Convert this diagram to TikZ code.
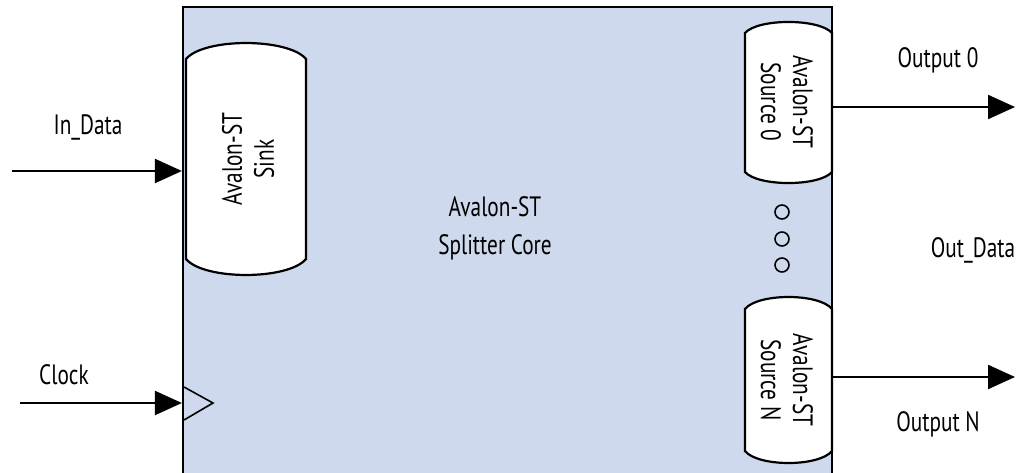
\documentclass[tikz,border=0pt]{standalone}
\usepackage{fontspec}
\setmainfont{PT Sans}[FakeStretch=0.76]
\usetikzlibrary{arrows.meta}
\usetikzlibrary{positioning}
\definecolor{corefill}{RGB}{206,217,237}

\begin{document}
\begin{tikzpicture}[x=1pt,y=-1pt]
	\tikzstyle{txt}=[inner sep=0pt,font=\fontsize{28}{32}\selectfont,align=center]
	\tikzstyle{pad}=[draw,line width=2.2pt,fill=white]
	\tikzstyle{sig}=[draw,line width=2.2pt,-{Triangle[length=27pt,width=24pt]}]
	\tikzstyle{dot}=[circle,draw,line width=1.6pt,minimum size=14pt,inner sep=0pt]
	\useasboundingbox (0,0) rectangle (1022,473);

	% core block
	\node[draw,line width=2.2pt,fill=corefill,minimum width=649pt,minimum height=480pt,inner sep=0pt] (core) at (507.5,247) {};
	\node[txt,font=\fontsize{28}{38}\selectfont] (corelbl) at (495,228) {Avalon-ST\\Splitter Core};

	% sink and sources
	\draw[pad] (186,59) .. controls (204,37.7) and (288,37.7) .. (306,59) -- (306,259)
		.. controls (288,280.3) and (204,280.3) .. (186,259) -- cycle;
	\draw[pad] (745,33) .. controls (758,18.3) and (819,18.3) .. (832,33) -- (832,172)
		.. controls (819,186.7) and (758,186.7) .. (745,172) -- cycle;
	\draw[pad] (745,309) .. controls (758,293) and (819,293) .. (832,309) -- (832,451)
		.. controls (819,467) and (758,467) .. (745,451) -- cycle;
	\node[txt,rotate=90] (sink) at (248,159) {Avalon-ST\\Sink};
	\node[txt,rotate=-90] (src0) at (787,102) {Avalon-ST\\Source 0};
	\node[txt,rotate=-90] (srcN) at (787,380) {Avalon-ST\\Source N};

	\node[dot] (d1) at (782,212) {};
	\node[dot] (d2) at (782,239) {};
	\node[dot] (d3) at (782,265) {};

	% clock input
	\draw[line width=1.6pt,fill=corefill] (184,387) -- (213,403) -- (184,420);

	% signals
	\coordinate (indata) at (12,171);
	\coordinate (clock) at (20,403);
	\coordinate (out0) at (1015,107);
	\coordinate (outN) at (1015,377);
	\draw[sig] (indata) -- (indata -| core.west);
	\draw[sig] (clock) -- (clock -| core.west);
	\draw[sig] (out0 -| core.east) -- (out0);
	\draw[sig] (outN -| core.east) -- (outN);

	\node[txt] (indatalbl) at (88,127) {In\_Data};
	\node[txt] (clocklbl) at (64,375) {Clock};
	\node[txt] (out0lbl) at (938,60) {Output 0};
	\node[txt] (outdatalbl) at (973,250) {Out\_Data};
	\node[txt] (outNlbl) at (938,424) {Output N};
\end{tikzpicture}
\end{document}
